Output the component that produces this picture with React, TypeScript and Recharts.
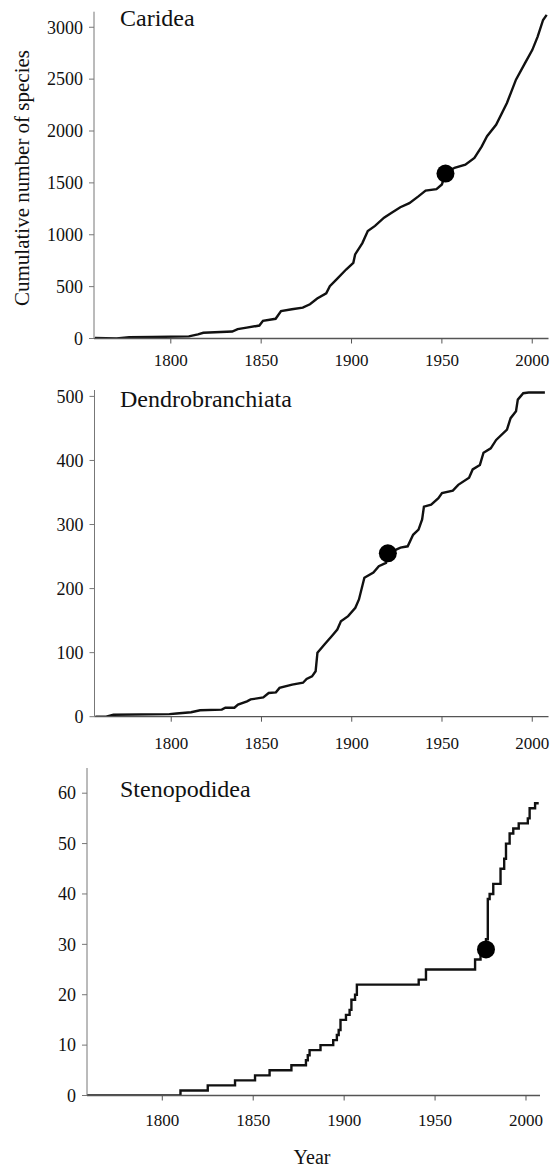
import { LineChart, Line, XAxis, YAxis, ReferenceDot } from "recharts";

// Caridea — cumulative species counts
const caridYears = [1758, 1770, 1777, 1790, 1810, 1815, 1818, 1834, 1837, 1842, 1849, 1851, 1858, 1861, 1867, 1873, 1877, 1881, 1886, 1888, 1892, 1897, 1901, 1902, 1906, 1909, 1913, 1918, 1922, 1927, 1932, 1937, 1941, 1947, 1950, 1952, 1957, 1963, 1968, 1972, 1975, 1980, 1986, 1991, 1996, 2000, 2003, 2006, 2008];
const caridCounts = [5, 0, 12, 15, 20, 40, 55, 67, 90, 105, 125, 170, 190, 265, 282, 298, 330, 385, 435, 505, 575, 665, 730, 810, 920, 1035, 1085, 1165, 1210, 1265, 1305, 1370, 1425, 1440, 1485, 1590, 1645, 1675, 1740, 1850, 1950, 2060, 2270, 2495, 2655, 2780, 2910, 3070, 3120];
const caridTicks = [0, 500, 1000, 1500, 2000, 2500, 3000];
const caridDot = { year: 1952, count: 1590 };

// Dendrobranchiata
const dendroYears = [1758, 1764, 1768, 1799, 1803, 1811, 1816, 1828, 1830, 1835, 1837, 1842, 1844, 1851, 1854, 1858, 1860, 1867, 1873, 1875, 1878, 1880, 1881, 1885, 1889, 1892, 1894, 1898, 1902, 1904, 1907, 1912, 1915, 1919, 1920, 1927, 1931, 1934, 1937, 1939, 1940, 1944, 1948, 1950, 1956, 1959, 1965, 1967, 1971, 1973, 1977, 1980, 1986, 1988, 1991, 1992, 1995, 1998, 2007];
const dendroCounts = [0, 0, 3, 4, 5, 7, 10, 11, 14, 14, 19, 24, 27, 30, 37, 38, 45, 50, 53, 59, 63, 71, 100, 113, 126, 136, 149, 157, 170, 183, 217, 225, 235, 240, 255, 264, 266, 284, 292, 308, 328, 331, 341, 349, 353, 362, 373, 386, 393, 412, 419, 432, 448, 466, 477, 495, 505, 506, 506];
const dendroTicks = [0, 100, 200, 300, 400, 500];
const dendroDot = { year: 1920, count: 255 };

// Stenopodidea
const stenoYears = [1758, 1810, 1825, 1840, 1851, 1859, 1871, 1879, 1880, 1881, 1887, 1894, 1896, 1897, 1898, 1901, 1903, 1904, 1906, 1907, 1941, 1945, 1972, 1975, 1978, 1979, 1980, 1982, 1984, 1986, 1988, 1989, 1991, 1993, 1996, 2001, 2002, 2005, 2007];
const stenoCounts = [0, 1, 2, 3, 4, 5, 6, 7, 8, 9, 10, 11, 12, 13, 15, 16, 17, 19, 20, 22, 23, 25, 27, 28, 31, 39, 40, 42, 42, 45, 47, 50, 52, 53, 54, 55, 57, 58, 58];
const stenoTicks = [0, 10, 20, 30, 40, 50, 60];
const stenoDot = { year: 1978, count: 29 };

const yearTicks = [1800, 1850, 1900, 1950, 2000];

const FONT = "'Liberation Serif', 'Times New Roman', serif";

function toRows(years: number[], counts: number[]) {
  return years.map((y, i) => ({ year: y, count: counts[i] }));
}

// custom ticks so the serif font actually sticks
const YearTick = ({ x, y, payload }: any) => (
  <text x={x} y={y} dy="0.71em" textAnchor="middle" fontFamily={FONT} fontSize={17} fill="#111">
    {payload.value}
  </text>
);
const CountTick = ({ x, y, payload }: any) => (
  <text x={x} y={y} dy="0.35em" textAnchor="end" fontFamily={FONT} fontSize={18} fill="#111">
    {payload.value}
  </text>
);

interface PanelProps {
  top: number;
  height: number;
  rows: { year: number; count: number }[];
  yDomain: [number, number];
  yTicks: number[];
  xDomain: [number, number];
  dot: { year: number; count: number };
  margin: { top: number; right: number; left: number; bottom: number };
  yWidth: number;
  xHeight: number;
  xTickMargin: number;
  lineType: "linear" | "stepAfter";
}

function Panel(p: PanelProps) {
  return (
    <div style={{ position: "absolute", left: 0, top: p.top }}>
      <LineChart width={553} height={p.height} data={p.rows} margin={p.margin}>
        <XAxis
          type="number" dataKey="year" domain={p.xDomain} ticks={yearTicks} allowDataOverflow
          height={p.xHeight} tickSize={5} tickMargin={p.xTickMargin}
          axisLine={{ stroke: "#555", strokeWidth: 1.3 }} tickLine={{ stroke: "#555" }}
          tick={YearTick}
        />
        <YAxis
          type="number" domain={p.yDomain} ticks={p.yTicks} allowDataOverflow interval={0}
          width={p.yWidth} tickSize={5} tickMargin={6}
          axisLine={{ stroke: "#777", strokeWidth: 1 }} tickLine={{ stroke: "#777" }}
          tick={CountTick}
        />
        <Line
          type={p.lineType} dataKey="count" stroke="#111" strokeWidth={2.4}
          dot={false} isAnimationActive={false}
        />
        <ReferenceDot x={p.dot.year} y={p.dot.count} r={9} fill="#000" stroke="none" />
      </LineChart>
    </div>
  );
}

export default function App() {
  return (
    <div style={{ position: "absolute", left: 0, top: 0, width: 553, height: 1168, background: "#fff", fontFamily: FONT }}>
      <Panel
        top={0} height={390} rows={toRows(caridYears, caridCounts)}
        yDomain={[0, 3150]} yTicks={caridTicks} xDomain={[1757.5, 2009]} dot={caridDot}
        margin={{ top: 11.7, right: 4.5, left: 0, bottom: 0 }} yWidth={94} xHeight={51.5}
        xTickMargin={10} lineType="linear"
      />
      <Panel
        top={370} height={400} rows={toRows(dendroYears, dendroCounts)}
        yDomain={[0, 510]} yTicks={dendroTicks} xDomain={[1757.5, 2009]} dot={dendroDot}
        margin={{ top: 20, right: 4.5, left: 0, bottom: 0 }} yWidth={94.5} xHeight={53.3}
        xTickMargin={15} lineType="linear"
      />
      <Panel
        top={750} height={418} rows={toRows(stenoYears, stenoCounts)}
        yDomain={[0, 65]} yTicks={stenoTicks} xDomain={[1758.6, 2007.7]} dot={stenoDot}
        margin={{ top: 18, right: 13, left: 0, bottom: 0 }} yWidth={87} xHeight={72.5}
        xTickMargin={13} lineType="stepAfter"
      />
      <svg width={553} height={1168} style={{ position: "absolute", left: 0, top: 0, pointerEvents: "none" }}>
        <g fontFamily={FONT} fill="#111">
          <text x={120} y={26} fontSize={24}>Caridea</text>
          <text x={120} y={407} fontSize={24}>Dendrobranchiata</text>
          <text x={120} y={797} fontSize={24}>Stenopodidea</text>
          <text x={312} y={1164} fontSize={20} textAnchor="middle">Year</text>
          <text x={0} y={0} fontSize={21} textAnchor="middle" transform="translate(29,178) rotate(-90)">
            Cumulative number of species
          </text>
        </g>
      </svg>
    </div>
  );
}
